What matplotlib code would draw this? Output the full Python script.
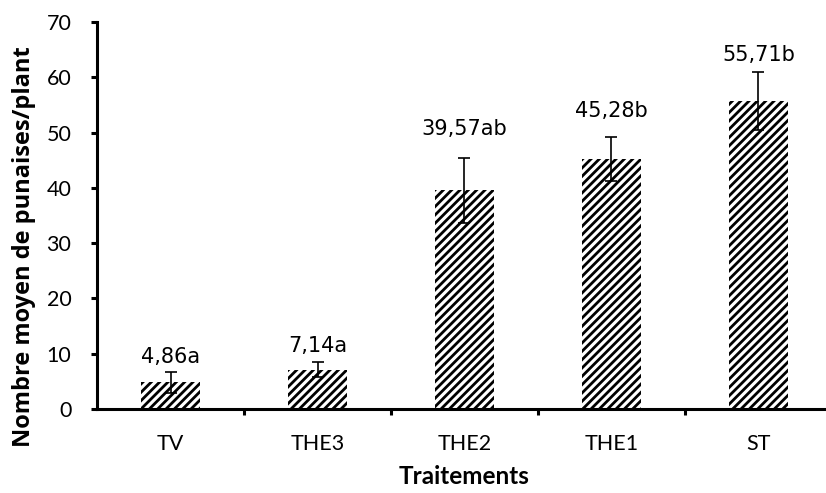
import matplotlib
matplotlib.use("Agg")
import matplotlib.pyplot as plt
import numpy as np

categories = ["TV", "THE3", "THE2", "THE1", "ST"]
means = [4.86, 7.14, 39.57, 45.28, 55.71]
errors = [1.9, 1.4, 5.9, 4.0, 5.3]
letters = ["a", "a", "ab", "b", "b"]
y_ticks = [0, 10, 20, 30, 40, 50, 60, 70]

# label offsets above error cap (pixels)
label_off_px = [9, 10, 23, 20, 11]

plt.rcParams['font.family'] = ['Lato', 'DejaVu Sans']
plt.rcParams['hatch.linewidth'] = 2.0

DPI = 100
fig = plt.figure(figsize=(8.26, 4.93), dpi=DPI)
ax = fig.add_axes([97/826, 1 - 409/493, 735/826, 387/493])

x = np.arange(len(categories))
ax.bar(x, means, width=0.4, color='white', edgecolor='black', linewidth=0,
       hatch='////', zorder=2)
ax.errorbar(x, means, yerr=errors, fmt='none', ecolor='black', elinewidth=1.2,
            capsize=4.3, capthick=1.2, zorder=3)

for xi, m, e, l, off in zip(x, means, errors, letters, label_off_px):
    txt = f"{m:.2f}".replace('.', ',') + l
    ax.annotate(txt, (xi, m + e), xytext=(0, off * 72 / DPI), textcoords='offset points',
                ha='center', va='baseline', fontsize=15, color='black',
                family=['DejaVu Sans'])

ax.set_xlim(-0.5, len(categories) - 0.5)
ax.set_ylim(0, 70)
ax.set_yticks(y_ticks)
ax.set_xticks(x)
ax.set_xticklabels(categories)
ax.set_xticks(np.arange(len(categories) - 1) + 0.5, minor=True)

for s in ['top', 'right']:
    ax.spines[s].set_visible(False)
for s in ['left', 'bottom']:
    ax.spines[s].set_linewidth(2.2)
    ax.spines[s].set_zorder(4)

ax.tick_params(axis='y', direction='out', length=4.5, width=2.2, pad=14, labelsize=15.5)
ax.tick_params(axis='x', which='major', length=0, pad=18, labelsize=15.5)
ax.tick_params(axis='x', which='minor', direction='out', length=4.5, width=2.2)

ax.set_ylabel("Nombre moyen de punaises/plant", fontsize=17, fontweight='bold',
              family=['Open Sans'])
ax.yaxis.set_label_coords(24/826, 0.5, transform=fig.transFigure)
ax.set_xlabel("Traitements", fontsize=17.5, fontweight='bold')
ax.xaxis.set_label_coords(464/826, 1 - 476/493, transform=fig.transFigure)
ax.xaxis.label.set_va('center')
ax.yaxis.label.set_va('center')

fig.savefig("out.png", dpi=DPI)
